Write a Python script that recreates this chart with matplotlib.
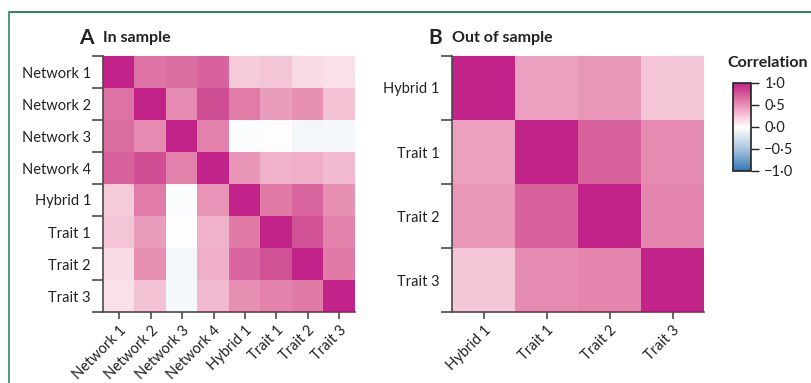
import numpy as np
import matplotlib
matplotlib.use("Agg")
import matplotlib.pyplot as plt
from matplotlib.colors import LinearSegmentedColormap
from matplotlib.lines import Line2D
from matplotlib.transforms import offset_copy

plt.rcParams['font.family'] = ['Lato', 'DejaVu Sans']

# panel A: in-sample correlations
labels_a = ["Network 1", "Network 2", "Network 3", "Network 4",
            "Hybrid 1", "Trait 1", "Trait 2", "Trait 3"]
corr_a = np.array([
    [1.00, 0.63, 0.65, 0.71, 0.23, 0.26, 0.16, 0.14],
    [0.63, 1.00, 0.53, 0.80, 0.59, 0.45, 0.50, 0.27],
    [0.65, 0.53, 1.00, 0.57, -0.02, 0.01, -0.07, -0.05],
    [0.71, 0.80, 0.57, 1.00, 0.48, 0.35, 0.36, 0.31],
    [0.23, 0.59, -0.02, 0.48, 1.00, 0.60, 0.69, 0.50],
    [0.26, 0.45, 0.01, 0.35, 0.60, 1.00, 0.78, 0.56],
    [0.16, 0.50, -0.07, 0.36, 0.69, 0.78, 1.00, 0.60],
    [0.14, 0.27, -0.05, 0.31, 0.50, 0.56, 0.60, 1.00],
])

# panel B: out-of-sample correlations
labels_b = ["Hybrid 1", "Trait 1", "Trait 2", "Trait 3"]
corr_b = np.array([
    [1.00, 0.43, 0.47, 0.25],
    [0.43, 1.00, 0.71, 0.53],
    [0.47, 0.71, 1.00, 0.55],
    [0.25, 0.53, 0.55, 1.00],
])

cbar_ticks = [1.0, 0.5, 0.0, -0.5, -1.0]

# diverging map: blue - white - magenta (pink side sampled from the figure)
cmap = LinearSegmentedColormap.from_list("corr", [
    (0.0, "#3276b2"),
    (0.25, "#a9c6df"),
    (0.5, "#ffffff"),
    (0.5 + 0.23 / 2, (246 / 255, 204 / 255, 219 / 255)),
    (0.5 + 0.45 / 2, (235 / 255, 157 / 255, 189 / 255)),
    (0.5 + 0.59 / 2, (225 / 255, 125 / 255, 168 / 255)),
    (0.5 + 0.80 / 2, (208 / 255, 78 / 255, 148 / 255)),
    (1.0, (194 / 255, 35 / 255, 136 / 255)),
])

W, H = 811, 383
fig = plt.figure(figsize=(W / 100, H / 100), dpi=100)

# green frame (top and left only)
fig.add_artist(Line2D([8.5 / W, 1], [1 - 11.5 / H] * 2,
                      color="#2f805a", lw=1.4, transform=fig.transFigure))
fig.add_artist(Line2D([8.5 / W] * 2, [0, 1 - 11.5 / H],
                      color="#4c9c74", lw=1.4, transform=fig.transFigure))

spine_col = "#4a4a4a"
txt_col = "#222222"


def heatmap(rect, data, labels, letter, title):
    x0, y0, x1, y1 = rect
    ax = fig.add_axes([x0 / W, 1 - y1 / H, (x1 - x0) / W, (y1 - y0) / H])
    n = len(labels)
    ax.imshow(data, cmap=cmap, vmin=-1, vmax=1, aspect="auto",
              interpolation="nearest", extent=(0, n, n, 0))
    ax.set_xlim(0, n)
    ax.set_ylim(n, 0)
    for s in ["top", "right"]:
        ax.spines[s].set_visible(False)
    for s in ["left", "bottom"]:
        ax.spines[s].set_color(spine_col)
        ax.spines[s].set_linewidth(1.2)
    # x ticks at centres
    ax.set_xticks(np.arange(n) + 0.5)
    ax.set_xticklabels(labels, rotation=45, ha="right",
                       rotation_mode="anchor", fontsize=10.5, color=txt_col)
    ax.tick_params(axis="x", length=5, width=1.2, color=spine_col, pad=3)
    # y ticks at cell boundaries, labels at centres
    ax.set_yticks(np.arange(n + 1), minor=True)
    ax.set_yticks(np.arange(n) + 0.5)
    ax.set_yticklabels(labels, fontsize=10.5, color=txt_col)
    ax.tick_params(axis="y", which="major", length=0, pad=9)
    ax.tick_params(axis="y", which="minor", length=8, width=1.2,
                   color=spine_col)
    trans = offset_copy(ax.transAxes, fig=fig, x=-10, y=0, units="dots")
    ax.text(0.0, 1.07, letter, transform=trans, fontsize=15,
            fontweight="bold", ha="right", va="center", color=txt_col)
    ax.text(0.0, 1.07, title, transform=ax.transAxes, fontsize=11.5,
            fontweight="bold", ha="left", va="center", color=txt_col)
    return ax


ax_a = heatmap((103.5, 56, 355, 312), corr_a, labels_a, "A", "In sample")
ax_b = heatmap((452, 56, 704, 312), corr_b, labels_b, "B", "Out of sample")
im = ax_b.images[0]

# colourbar
cax = fig.add_axes([732.5 / W, 1 - 171 / H, 18 / W, 88 / H])
cb = fig.colorbar(im, cax=cax, ticks=cbar_ticks)
cb.outline.set_edgecolor(txt_col)
cb.outline.set_linewidth(1.2)
cb.ax.set_yticklabels([("−" if t < 0 else "") + f"{abs(t):.1f}".replace(".", "·")
                       for t in cbar_ticks], fontsize=10.5, color=txt_col)
cb.ax.tick_params(length=6, width=1, color=txt_col, pad=4)
fig.text(768 / W, 1 - 63 / H, "Correlation", fontsize=11.5, fontweight="bold",
         ha="center", va="center", color=txt_col)

fig.savefig("out.png", dpi=100)
